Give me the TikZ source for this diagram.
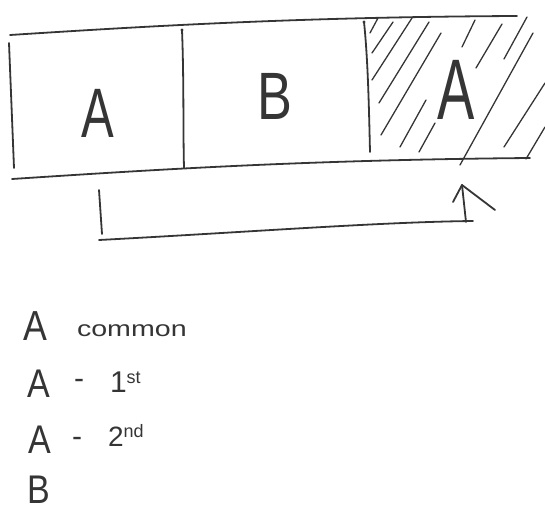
\documentclass[tikz,border=0pt]{standalone}
\usepackage{fontspec}
\setmainfont{Liberation Sans}
\definecolor{ink}{HTML}{353535}
\begin{document}
\begin{tikzpicture}[x=1pt,y=-1pt,
  pen/.style={draw=ink, line width=1.8pt, line cap=round, line join=round},
  hatchline/.style={draw=ink, line width=1.3pt, line cap=round},
  lbl/.style={text=ink, inner sep=0pt, outer sep=0pt}]
\useasboundingbox (0,0) rectangle (545,511);
% outline of the strip
\draw[pen] (10,35) .. controls (150,26) and (300,17) .. (517,16);
\draw[pen] (12,179) .. controls (150,170) and (300,160) .. (530,158);
\draw[pen] (9,43) -- (14,168);
\draw[pen] (182,30) .. controls (184,80) and (183,130) .. (184,168);
\draw[pen] (364,22) .. controls (368,60) and (369,110) .. (370,152);
\fill[ink] (182,30) circle (1.6pt);
\fill[ink] (364,22) circle (1.6pt);
% hatching
\foreach \a/\b in {{(370,33)}/{(378,18)}, {(372,53)}/{(393,22)}, {(372,80)}/{(412,18)},
  {(379,103)}/{(429,22)}, {(381,135)}/{(441,33)}, {(400,147)}/{(426,100)},
  {(419,152)}/{(435,123)}, {(462,47)}/{(475,20)}, {(476,68)}/{(502,24)},
  {(504,59)}/{(527,17)}, {(460,165)}/{(533,33)}, {(504,147)}/{(545,83)},
  {(526,159)}/{(545,127)}}
  \draw[hatchline] \a -- \b;
% box labels
\node[lbl] (a1) at (98,113) {\fontsize{70}{70}\selectfont\scalebox{0.7}[1]{A}};
\node[lbl] (b1) at (275,96) {\fontsize{67}{67}\selectfont\scalebox{0.78}[1]{B}};
\node[lbl] (a2) at (456,90) {\fontsize{86}{86}\selectfont\scalebox{0.65}[1]{A}};
% bracket arrow
\coordinate (s) at (99,190);
\coordinate (c2) at (466,222);
\coordinate (t) at (462,185);
\draw[pen] (s) -- (102,234);
\draw[pen] (99,240) .. controls (250,232) and (380,222) .. (473,221);
\draw[pen] (c2) -- (t);
\draw[pen] (453,202) -- (t) -- (495,210);
% legend
\node[lbl] (la) at (35,326) {\fontsize{42}{42}\selectfont\scalebox{0.85}[1]{A}};
\node[lbl, anchor=base west] (lc) at (77,336) {\fontsize{22}{22}\selectfont\scalebox{1.3}[1]{common}};
\node[lbl] (lb) at (39,384) {\fontsize{40}{40}\selectfont\scalebox{0.85}[1]{A}};
\node[lbl] (ld1) at (79,384) {\fontsize{30}{30}\selectfont -};
\node[lbl, anchor=base west] (l1) at (110,392) {\fontsize{30}{30}\selectfont 1\raisebox{9pt}{\fontsize{18}{18}\selectfont st}};
\node[lbl] (lc2) at (40,440) {\fontsize{40}{40}\selectfont\scalebox{0.85}[1]{A}};
\node[lbl] (ld2) at (77,442) {\fontsize{30}{30}\selectfont -};
\node[lbl, anchor=base west] (l2) at (108,446) {\fontsize{28}{28}\selectfont 2\raisebox{9pt}{\fontsize{18}{18}\selectfont nd}};
\node[lbl] (ld) at (39,490) {\fontsize{40}{40}\selectfont\scalebox{0.85}[1]{B}};
\end{tikzpicture}
\end{document}
